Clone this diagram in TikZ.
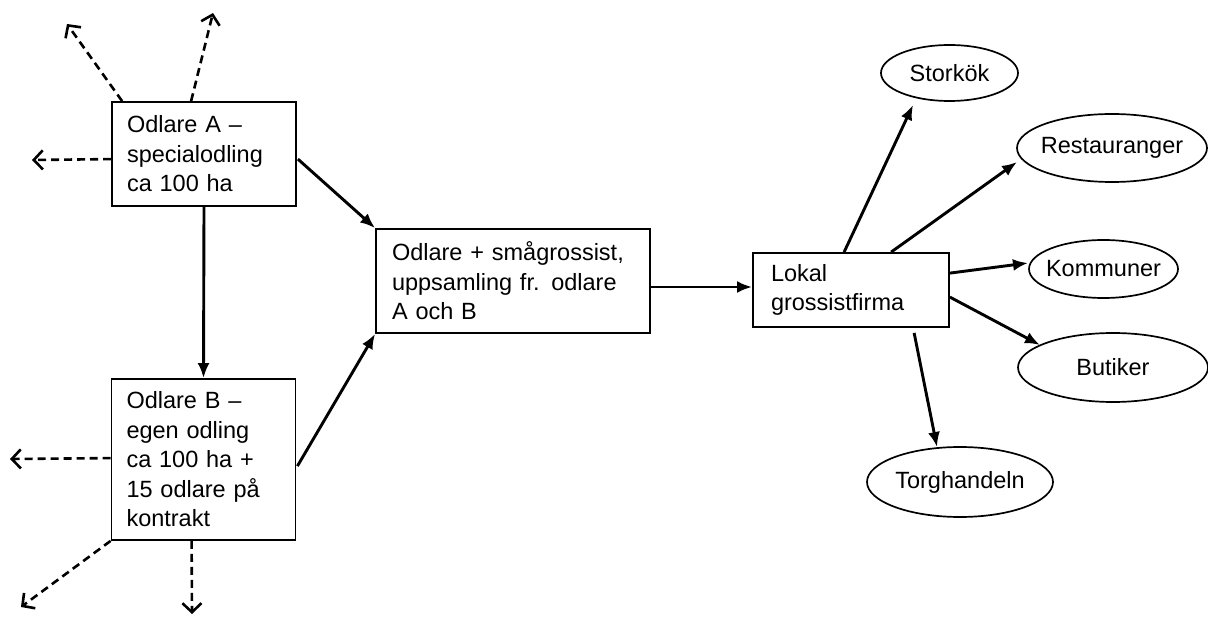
\documentclass[tikz,border=0pt]{standalone}
\usepackage{fontspec}
\setmainfont{Liberation Sans}
\usetikzlibrary{arrows.meta,shapes.geometric,calc}
\begin{document}
\begin{tikzpicture}[x=1pt,y=-1pt,
  txt/.style={font=\fontsize{23.5}{29.5}\selectfont},
  box/.style={txt,draw,line width=1.8pt,inner ysep=0pt,inner xsep=15pt,align=left},
  oval/.style={txt,draw,ellipse,line width=1.7pt,inner sep=0pt},
  flow/.style={line width=2.9pt,-{Latex[length=15pt,width=12pt]}},
  side/.style={line width=2.6pt,dash pattern=on 8pt off 5pt,-{Straight Barb[length=9pt,width=19pt,line width=2.6pt]}}]
\useasboundingbox (0,0) rectangle (1208,617);
\node[box,text width=154pt,minimum height=104pt] (A) at (204,154) {Odlare A --\\specialodling\\ca 100 ha};
\node[box,text width=154pt,minimum height=161pt] (B) at (203.5,459.5) {Odlare B --\\egen odling\\ca 100 ha +\\15 odlare på\\kontrakt};
\node[box,inner xsep=16pt,text width=242pt,minimum height=104pt] (M) at (513,281) {Odlare + smågrossist,\\uppsamling fr. odlare\\A och B};
\node[box,inner xsep=18pt,text width=160pt,minimum height=74pt] (L) at (851,290) {Lokal\\grossistfirma};
\node[oval,minimum width=137pt,minimum height=56pt] (S) at (949.5,73) {\makebox[0pt]{Storkök}};
\node[oval,minimum width=190pt,minimum height=68pt] (R) at (1112,148) {\makebox[0pt]{Restauranger}};
\node[oval,minimum width=149pt,minimum height=58pt] (K) at (1103.5,269) {\makebox[0pt]{Kommuner}};
\node[oval,minimum width=190pt,minimum height=69pt] (U) at (1113,367.5) {\makebox[0pt]{Butiker}};
\node[oval,minimum width=186pt,minimum height=70pt] (T) at (960,482) {\makebox[0pt]{Torghandeln}};
% solid flows
\draw[flow] (A.north east) ++(1,58) -- (M.north west);
\draw[flow] (A.south) -- (B.north);
\draw[flow] (B.north east) ++(1,88) -- (M.south west);
\draw[flow] (M.east) ++(0,6) -- ($(L.west)+(0,-3)$);
\draw[flow] (L.north west) ++(92,0) -- ($(S.center)+(-36.5,32)$);
\draw[flow] (L.north west) ++(139,0) -- ($(R.center)+(-95,14)$);
\draw[flow] (L.north east) ++(0,21) -- ($(K.center)+(-75.5,-6)$);
\draw[flow] (L.north east) ++(0,45) -- ($(U.center)+(-73,-22.5)$);
\draw[flow] (L.south west) ++(162,5) -- ($(T.center)+(-23,-35)$);
% dashed side outlets
\coordinate (a1) at (67,24);
\coordinate (a2) at (213,13);
\coordinate (a3) at (32,160);
\coordinate (b1) at (10,459);
\coordinate (b2) at (21,607);
\coordinate (b3) at (192,614);
\draw[side] (A.north west) ++(11,0) -- (a1);
\draw[side] (A.north west) ++(80,0) -- (a2);
\draw[side] (A.north west) ++(0,58) -- (a3);
\draw[side] (B.north west) ++(0,80) -- (b1);
\draw[side] (B.south west) -- (b2);
\draw[side] (B.south west) ++(81,0) -- (b3);
\end{tikzpicture}
\end{document}
